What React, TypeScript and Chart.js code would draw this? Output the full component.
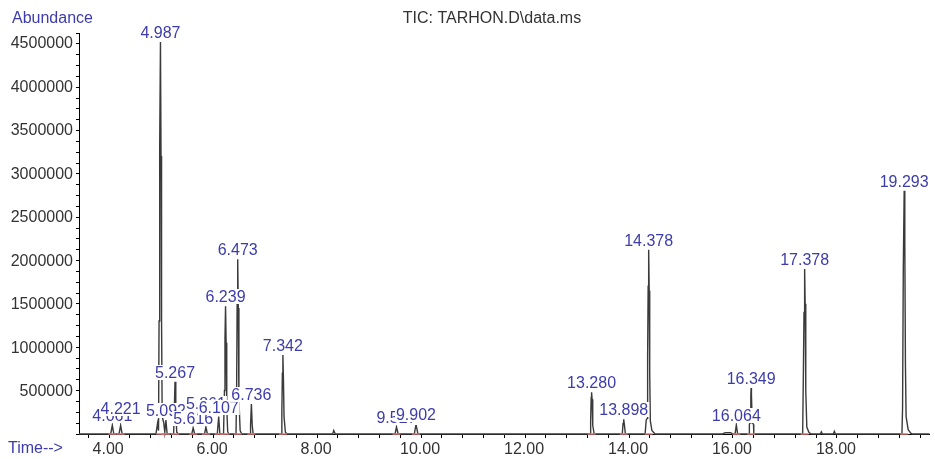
import React, { useEffect, useRef } from 'react';
import { Chart, registerables } from 'chart.js';

Chart.register(...registerables);

const TITLE = 'TIC: TARHON.D\\data.ms';
const Y_TITLE = 'Abundance';
const X_TITLE = 'Time-->';

// Time axis range (min) and abundance range
const X_MIN = 3.42;
const X_MAX = 19.78;
const Y_MAX = 4615000;
const X_MINOR_STEP = 0.4;
const X_LABEL_EVERY = 2;
const Y_MINOR_STEP = 125000;
const Y_TICK_LABELS = [500000, 1000000, 1500000, 2000000, 2500000, 3000000, 3500000, 4000000, 4500000];

// Total ion chromatogram trace: [retention time (min), abundance]
const trace: [number, number][] = [
  [3.42, 0],
  [4.03, 0], [4.061, 100000], [4.09, 0],
  [4.19, 0], [4.221, 100000], [4.25, 0],
  [4.9, 0], [4.93, 120000], [4.95, 40000], [4.96, 1300000], [4.972, 3300000], [4.987, 4510000],
  [4.998, 3200000], [5.008, 1300000], [5.02, 200000], [5.05, 130000], [5.07, 20000], [5.092, 160000], [5.115, 0],
  [5.24, 0], [5.252, 250000], [5.267, 600000], [5.282, 250000], [5.3, 20000], [5.33, 0],
  [5.59, 0], [5.616, 70000], [5.645, 0],
  [5.835, 0], [5.861, 80000], [5.89, 0],
  [6.08, 0], [6.107, 200000], [6.13, 0],
  [6.2, 0], [6.218, 500000], [6.228, 1100000], [6.239, 1470000], [6.25, 1050000], [6.262, 300000], [6.28, 30000], [6.3, 0],
  [6.44, 0], [6.452, 500000], [6.462, 1500000], [6.473, 2010000], [6.484, 1450000], [6.496, 400000], [6.52, 40000], [6.55, 0],
  [6.71, 0], [6.72, 100000], [6.736, 345000], [6.752, 100000], [6.77, 0],
  [7.31, 0], [7.322, 250000], [7.332, 700000], [7.342, 910000], [7.352, 650000], [7.364, 200000], [7.39, 20000], [7.42, 0],
  [8.3, 0], [8.32, 40000], [8.35, 0],
  [9.5, 0], [9.527, 80000], [9.56, 0],
  [9.87, 0], [9.902, 110000], [9.94, 0],
  [13.25, 0], [13.262, 150000], [13.272, 420000], [13.28, 480000], [13.29, 400000], [13.302, 100000], [13.33, 0],
  [13.87, 0], [13.885, 120000], [13.898, 170000], [13.91, 110000], [13.93, 0],
  [14.31, 0], [14.33, 160000], [14.35, 180000], [14.358, 900000], [14.368, 1700000], [14.378, 2120000],
  [14.388, 1650000], [14.398, 700000], [14.41, 150000], [14.44, 40000], [14.5, 0],
  [15.8, 0], [15.85, 15000], [15.95, 15000], [16.0, 0],
  [16.04, 0], [16.064, 105000], [16.09, 0],
  [16.31, 0], [16.315, 110000], [16.33, 130000], [16.343, 450000], [16.349, 530000], [16.355, 450000], [16.37, 130000], [16.395, 110000], [16.4, 0],
  [17.34, 0], [17.352, 600000], [17.366, 1400000], [17.378, 1900000], [17.388, 1500000], [17.4, 500000], [17.42, 80000], [17.46, 20000], [17.5, 0],
  [17.68, 0], [17.7, 25000], [17.72, 0],
  [17.93, 0], [17.95, 30000], [17.97, 0],
  [19.25, 0], [19.262, 300000], [19.276, 1900000], [19.293, 2800000], [19.305, 2200000], [19.317, 800000],
  [19.33, 200000], [19.37, 50000], [19.42, 10000], [19.45, 0],
  [19.78, 0],
];

// Integrated peaks: retention time, apex abundance, label
const peakTimes = [4.061, 4.221, 4.987, 5.092, 5.267, 5.616, 5.861, 6.107, 6.239, 6.473, 6.736, 7.342,
  9.527, 9.902, 13.28, 13.898, 14.378, 16.064, 16.349, 17.378, 19.293];
const peakHeights = [100000, 100000, 4510000, 160000, 600000, 70000, 80000, 200000, 1470000, 2010000, 345000, 910000,
  80000, 110000, 480000, 170000, 2120000, 105000, 530000, 1900000, 2800000];
const peakLabels = ['4.061', '4.221', '4.987', '5.092', '5.267', '5.616', '5.861', '6.107', '6.239', '6.473', '6.736', '7.342',
  '9.527', '9.902', '13.280', '13.898', '14.378', '16.064', '16.349', '17.378', '19.293'];

const FONT = '"Liberation Sans", Arial, sans-serif';
const BLUE = '#3c3caa';
const TEXT = '#333333';

function isMultiple(v: number, step: number) {
  const r = v / step;
  return Math.abs(r - Math.round(r)) < 1e-6;
}

const peakLabelPlugin = {
  id: 'peakLabels',
  afterDatasetsDraw(chart: any) {
    const { ctx, scales } = chart;
    const x = scales.x;
    const y = scales.y;
    ctx.save();
    ctx.font = `16px ${FONT}`;
    ctx.textAlign = 'center';
    ctx.textBaseline = 'alphabetic';
    const placed: { px: number; w: number; bottom: number }[] = [];
    peakTimes.forEach((t, i) => {
      const px = x.getPixelForValue(t);
      const py = y.getPixelForValue(peakHeights[i]);
      const w = ctx.measureText(peakLabels[i]).width;
      let bottom = Math.round(py - 4);
      let moved = true;
      let guard = 0;
      while (moved && guard < 20) {
        moved = false;
        guard++;
        for (const p of placed) {
          if (Math.abs(p.px - px) < (p.w + w) / 2 && Math.abs(p.bottom - bottom) <= 2) {
            bottom = p.bottom - 7;
            moved = true;
          }
        }
      }
      ctx.fillStyle = '#ffffff';
      ctx.fillRect(px - w / 2 - 1, bottom - 13, w + 2, 15);
      ctx.fillStyle = BLUE;
      ctx.fillText(peakLabels[i], px, bottom);
      placed.push({ px, w, bottom });
    });
    ctx.restore();
  },
  afterDraw(chart: any) {
    const { ctx, chartArea, scales } = chart;
    const y = scales.y;
    ctx.save();
    ctx.font = `16px ${FONT}`;
    // y tick labels
    ctx.textBaseline = 'middle';
    ctx.textAlign = 'right';
    ctx.fillStyle = TEXT;
    Y_TICK_LABELS.forEach((v) => {
      const py = y.getPixelForValue(v);
      ctx.fillText(String(v), chartArea.left - 6, py + 1);
    });
    // axis titles and chart title
    ctx.textAlign = 'left';
    ctx.fillStyle = BLUE;
    ctx.fillText(Y_TITLE, 12, 19);
    ctx.fillText(X_TITLE, 8, chartArea.bottom + 15);
    ctx.textAlign = 'center';
    ctx.fillStyle = TEXT;
    ctx.fillText(TITLE, 492, 19);
    ctx.restore();
  },
};

export default function App() {
  const canvasRef = useRef<HTMLCanvasElement | null>(null);

  useEffect(() => {
    const canvas = canvasRef.current;
    if (!canvas) return;
    const chart = new Chart(canvas, {
      type: 'line',
      data: {
        datasets: [
          {
            label: 'integration',
            data: peakTimes.map((t) => ({ x: t, y: 0 })),
            showLine: false,
            pointStyle: 'line',
            pointRadius: 4,
            pointBorderWidth: 1.5,
            pointBorderColor: '#e07070',
            pointBackgroundColor: '#e07070',
            clip: false,
          } as any,
          {
            label: 'TIC',
            data: trace.map(([t, v]) => ({ x: t, y: v })),
            borderColor: '#3a3a3a',
            borderWidth: 1.4,
            pointRadius: 0,
            tension: 0,
            fill: false,
            clip: false,
          } as any,
        ],
      },
      options: {
        responsive: false,
        animation: false,
        devicePixelRatio: 1,
        layout: { padding: { top: 33, right: 3, left: 0, bottom: 0 } },
        plugins: {
          legend: { display: false },
          tooltip: { enabled: false },
          title: { display: false },
        },
        scales: {
          x: {
            type: 'linear',
            min: X_MIN,
            max: X_MAX,
            border: { display: true, color: '#000', width: 1 },
            grid: { display: true, drawOnChartArea: false, drawTicks: true, tickLength: 4, color: '#000' },
            ticks: {
              stepSize: X_MINOR_STEP,
              includeBounds: false,
              autoSkip: false,
              maxRotation: 0,
              minRotation: 0,
              padding: 2,
              labelOffset: -1,
              color: TEXT,
              font: { size: 16, family: FONT },
              callback: (v: any) => (isMultiple(Number(v), X_LABEL_EVERY) ? Number(v).toFixed(2) : ''),
            },
            afterFit: (s: any) => {
              s.height = 25;
            },
          },
          y: {
            type: 'linear',
            min: 0,
            max: Y_MAX,
            border: { display: true, color: '#000', width: 1 },
            grid: { display: true, drawOnChartArea: false, drawTicks: true, tickLength: 3, color: '#000' },
            ticks: {
              stepSize: Y_MINOR_STEP,
              includeBounds: false,
              autoSkip: false,
              padding: 3,
              color: TEXT,
              font: { size: 16, family: FONT },
              callback: () => '',
            },
            afterFit: (s: any) => {
              s.width = 79;
            },
          },
        },
      } as any,
      plugins: [peakLabelPlugin],
    });
    return () => chart.destroy();
  }, []);

  return (
    <div style={{ position: 'absolute', left: 0, top: 0, width: 935, height: 459, background: '#fff' }}>
      <canvas ref={canvasRef} width={935} height={459} style={{ display: 'block' }} />
    </div>
  );
}
